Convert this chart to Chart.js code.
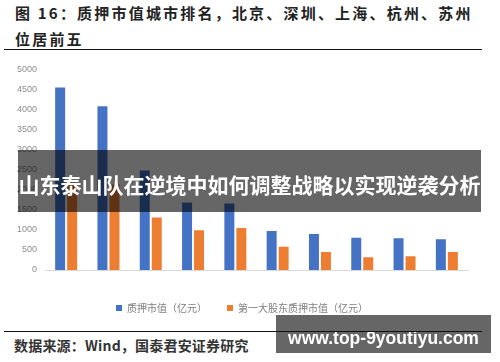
<!DOCTYPE html>
<html>
<head>
<meta charset="utf-8">
<script src="https://cdn.jsdelivr.net/npm/chart.js@4.4.0/dist/chart.umd.min.js"></script>
<style>
  body { margin: 0; width: 500px; height: 362px; background: #fff; position: relative; overflow: hidden; font-family: "Noto Sans CJK SC", sans-serif; }
  .title { position: absolute; left: 15px; top: 0; width: 480px; font-size: 15px; line-height: 26px; font-weight: bold; color: #222; letter-spacing: 2.2px; white-space: nowrap; }
  .rule { position: absolute; left: 4px; width: 478px; height: 1px; background: #111; z-index: 5; }
  .chartBox { position: absolute; left: 0; top: 56px; width: 500px; height: 267px; }
  .source { position: absolute; left: 14px; top: 335px; font-size: 14px; line-height: 20px; color: #333; font-weight: bold; letter-spacing: 0.2px; white-space: nowrap; }
  .banner { position: absolute; left: 18px; top: 150px; width: 463px; height: 62px; background: rgba(0,0,0,0.6); color: #fff; font-size: 21px; font-weight: bold; line-height: 62px; text-align: center; padding-top: 3px; box-sizing: border-box; white-space: nowrap; z-index: 4; }
  .mark { position: absolute; left: 276px; top: 315px; width: 215px; height: 38px; background: rgba(0,0,0,0.6); color: #fff; font-family: "Liberation Sans", sans-serif; font-size: 17.5px; font-weight: bold; line-height: 38px; text-align: center; padding-top: 4px; box-sizing: border-box; white-space: nowrap; z-index: 4; }
</style>
</head>
<body>
<div class="title">图 16：质押市值城市排名，北京、深圳、上海、杭州、苏州<br>位居前五</div>
<div class="rule" style="top:49px"></div>
<div class="chartBox"><canvas id="barChart"></canvas></div>
<div class="rule" style="top:331px"></div>
<div class="source">数据来源：Wind，国泰君安证券研究</div>
<div class="banner">山东泰山队在逆境中如何调整战略以实现逆袭分析</div>
<div class="mark">www.top-9youtiyu.com</div>

<script>
// Données
const cities = ['北京市', '深圳市', '上海市', '杭州市', '苏州市', '重庆市', '长沙市', '南京市', '绍兴市', '成都市'];
const pledgeValue = [4550, 4080, 2480, 1680, 1660, 970, 895, 805, 790, 765];
const topHolderValue = [2180, 2130, 1310, 990, 1045, 580, 450, 315, 340, 450];
const yTicks = [0, 500, 1000, 1500, 2000, 2500, 3000, 3500, 4000, 4500, 5000];

const ctx = document.getElementById('barChart').getContext('2d');
new Chart(ctx, {
  type: 'bar',
  data: {
    labels: cities,
    datasets: [{
      label: '质押市值（亿元）',
      data: pledgeValue,
      backgroundColor: '#4472C4',
      categoryPercentage: 0.567,
      barPercentage: 0.833
    }, {
      label: '第一大股东质押市值（亿元）',
      data: topHolderValue,
      backgroundColor: '#ED7D31',
      categoryPercentage: 0.567,
      barPercentage: 0.833
    }]
  },
  options: {
    responsive: true,
    maintainAspectRatio: false,
    animation: false,
    layout: {
      padding: { left: 16, right: 32, top: 0, bottom: 0 }
    },
    plugins: {
      legend: {
        position: 'bottom',
        labels: {
          boxWidth: 6,
          boxHeight: 6,
          padding: 20,
          color: '#7f7f7f',
          font: { size: 10, family: 'Noto Sans CJK SC' }
        }
      },
      tooltip: { enabled: false }
    },
    scales: {
      x: {
        grid: { display: false },
        border: { color: '#d9d9d9', width: 1 },
        ticks: {
          color: '#8c8c8c',
          padding: 7,
          font: { size: 10, family: 'Noto Sans CJK SC' }
        },
        afterFit: scale => { scale.height = 13; }
      },
      y: {
        min: 0,
        max: 5000,
        grid: { display: false, drawTicks: false },
        border: { display: false },
        afterBuildTicks: scale => { scale.ticks = yTicks.map(v => ({ value: v })); },
        ticks: {
          color: '#8c8c8c',
          padding: 8,
          font: { size: 9, family: 'Liberation Sans' },
          callback: value => String(value)
        },
        afterFit: scale => { scale.width = 29; }
      }
    }
  }
});
</script>
</body>
</html>
